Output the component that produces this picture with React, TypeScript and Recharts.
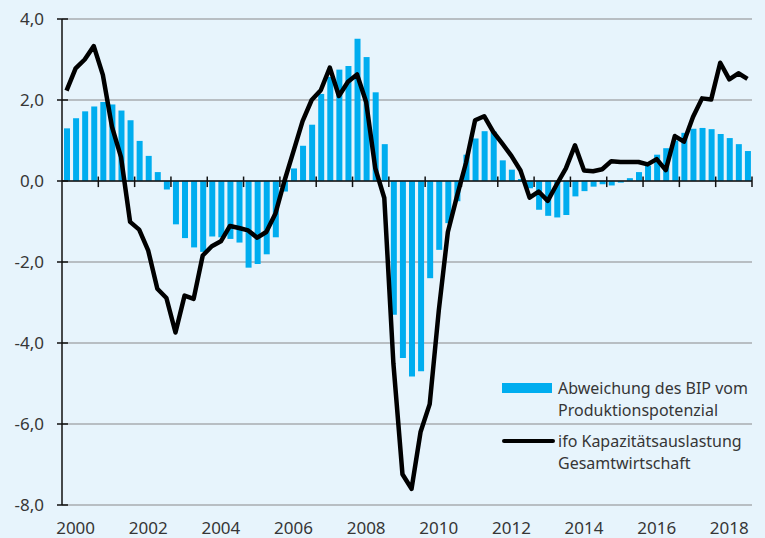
import React from "react";
import { ComposedChart, Bar, Line, XAxis, YAxis, CartesianGrid, ReferenceLine, Legend } from "recharts";

const years = [2000, 2001, 2002, 2003, 2004, 2005, 2006, 2007, 2008, 2009, 2010, 2011, 2012, 2013, 2014, 2015, 2016, 2017, 2018];

// Abweichung des BIP vom Produktionspotenzial (Quartale, in %)
const outputGap = [
  1.30, 1.55, 1.72, 1.84,
  1.95, 1.89, 1.74, 1.50,
  0.99, 0.62, 0.22, -0.21,
  -1.07, -1.41, -1.64, -1.75,
  -1.37, -1.39, -1.43, -1.52,
  -2.14, -2.05, -1.81, -1.39,
  -0.26, 0.31, 0.87, 1.39,
  2.15, 2.57, 2.75, 2.84,
  3.51, 3.06, 2.19, 0.91,
  -3.30, -4.37, -4.83, -4.70,
  -2.40, -1.70, -1.04, -0.50,
  0.65, 1.05, 1.23, 1.22,
  0.51, 0.28, 0.05, -0.18,
  -0.71, -0.86, -0.90, -0.84,
  -0.38, -0.25, -0.14, -0.08,
  -0.11, -0.04, 0.07, 0.22,
  0.38, 0.65, 0.81, 1.0,
  1.19, 1.29, 1.31, 1.28,
  1.16, 1.06, 0.91, 0.74,
];

// ifo Kapazitätsauslastung Gesamtwirtschaft (Abweichung vom Mittelwert)
const ifoCapacity = [
  2.23, 2.78, 3.00, 3.33,
  2.62, 1.34, 0.59, -1.01,
  -1.20, -1.72, -2.66, -2.89,
  -3.74, -2.83, -2.91, -1.84,
  -1.61, -1.49, -1.11, -1.16,
  -1.22, -1.40, -1.26, -0.81,
  0.0, 0.74, 1.48, 2.0,
  2.24, 2.80, 2.10, 2.45,
  2.63, 1.95, 0.32, -0.42,
  -4.5, -7.24, -7.60, -6.19,
  -5.51, -3.2, -1.26, -0.38,
  0.45, 1.50, 1.60, 1.21,
  0.92, 0.62, 0.26, -0.41,
  -0.26, -0.49, -0.08, 0.31,
  0.88, 0.26, 0.24, 0.29,
  0.49, 0.47, 0.47, 0.47,
  0.41, 0.54, 0.27, 1.11,
  0.97, 1.58, 2.04, 2.01,
  2.92, 2.51, 2.66, 2.52,
];

const yTicks = [-8, -6, -4, -2, 0, 2, 4];
const labelYears = [2000, 2002, 2004, 2006, 2008, 2010, 2012, 2014, 2016, 2018];

const data = outputGap.map((gap, i) => ({
  t: years[Math.floor(i / 4)] + ((i % 4) + 0.5) / 4,
  gap,
  ifo: ifoCapacity[i],
}));

const FONT = "'Noto Sans', sans-serif";
const TEXT = "#363636";
const BLUE = "#00adef";

const YTick = (props: any) => {
  const { x, y, payload } = props;
  return (
    <g>
      <line x1={x - 5} x2={x + 6} y1={y} y2={y} stroke="#111" strokeWidth={1.5} />
      <text x={x - 18} y={y} dy={6} textAnchor="end" fontSize={17} fontFamily={FONT} fill={TEXT}>
        {payload.value.toFixed(1).replace(".", ",")}
      </text>
    </g>
  );
};

const XTick = (props: any) => {
  const { x, y, payload } = props;
  return (
    <text x={x} y={y + 29} textAnchor="middle" fontSize={17} fontFamily={FONT} fill={TEXT}>
      {Math.floor(payload.value)}
    </text>
  );
};

const LegendBox = () => (
  <div style={{ fontFamily: FONT, fontSize: 16, color: TEXT, lineHeight: "22px" }}>
    <div style={{ display: "flex", alignItems: "flex-start" }}>
      <span style={{ width: 50, height: 10, background: BLUE, marginTop: 6, marginRight: 6, flexShrink: 0 }} />
      <div>Abweichung des BIP vom<br />Produktionspotenzial</div>
    </div>
    <div style={{ display: "flex", alignItems: "flex-start", marginTop: 9 }}>
      <span style={{ width: 53, height: 4, background: "#000", marginTop: 9, marginRight: 3, borderRadius: 2, flexShrink: 0 }} />
      <div>ifo Kapazitätsauslastung<br />Gesamtwirtschaft</div>
    </div>
  </div>
);

export default function App() {
  return (
    <div style={{ position: "absolute", left: 0, top: 0, width: 765, height: 538, background: "#e7f4fc" }}>
      <ComposedChart width={765} height={538} data={data} margin={{ top: 19, right: 13, bottom: 0, left: 0 }}>
        <CartesianGrid vertical={false} stroke="#a8adb1" strokeWidth={1.6} />
        <XAxis
          type="number"
          dataKey="t"
          domain={[2000, 2019]}
          ticks={labelYears.map((y) => y + 0.375)}
          interval={0}
          height={33}
          axisLine={false}
          tickLine={false}
          tickSize={0}
          tickMargin={0}
          tick={<XTick />}
        />
        <YAxis
          domain={[-8, 4]}
          ticks={yTicks}
          interval={0}
          width={62}
          axisLine={{ stroke: "#111", strokeWidth: 1.5 }}
          tickLine={false}
          tickSize={0}
          tickMargin={0}
          tick={<YTick />}
        />
        <Bar dataKey="gap" fill={BLUE} barSize={6} isAnimationActive={false} />
        <ReferenceLine y={0} stroke="#111" strokeWidth={1.5} />
        {years.slice(1).concat([2019]).map((yr) => (
          <ReferenceLine
            key={yr}
            segment={[{ x: yr, y: 0.11 }, { x: yr, y: -0.15 }]}
            stroke="#111"
            strokeWidth={1.5}
          />
        ))}
        <Line
          type="linear"
          dataKey="ifo"
          stroke="#000"
          strokeWidth={4.5}
          strokeLinejoin="round"
          dot={false}
          isAnimationActive={false}
        />
        <Legend
          layout="vertical"
          align="center"
          verticalAlign="middle"
          content={<LegendBox />}
          wrapperStyle={{ left: 502, top: 377, width: 262 }}
        />
      </ComposedChart>
    </div>
  );
}
